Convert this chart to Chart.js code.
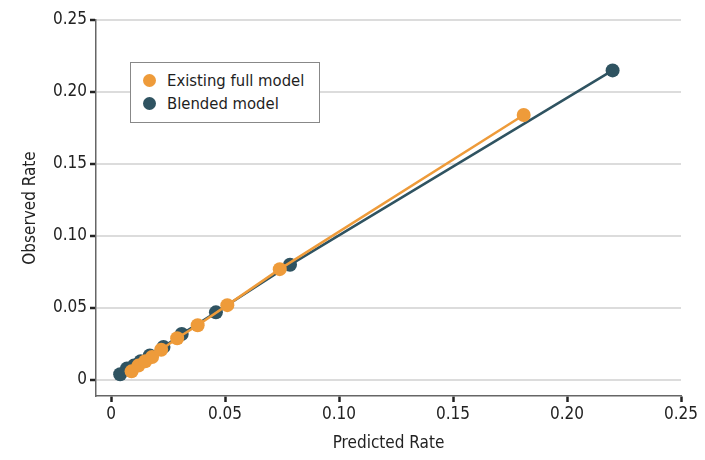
<!DOCTYPE html>
<html>
<head>
<meta charset="utf-8">
<script src="https://cdn.jsdelivr.net/npm/chart.js@4.4.0/dist/chart.umd.min.js"></script>
<style>
  body { margin: 0; background: #fff; }
  #wrap { position: relative; width: 705px; height: 460px; }
  #legend {
    position: absolute; left: 130px; top: 62px; width: 188px; height: 59px;
    border: 1px solid #888; background: #fff;
    font-family: "DejaVu Sans Condensed", sans-serif;
    font-size: 16.5px; color: #1e1e1e;
  }
  .item { position: absolute; left: 12px; display: flex; align-items: center; }
  .dot { width: 13px; height: 13px; border-radius: 50%; margin-right: 11px; }
</style>
</head>
<body>
<div id="wrap">
  <canvas id="calChart" width="705" height="460"></canvas>
  <div id="legend"></div>
</div>
<script>
// Calibration data
const seriesNames = ['Existing full model', 'Blended model'];
const seriesColors = ['#EE9B3A', '#2F5361'];

const existingPredicted = [0.009, 0.012, 0.015, 0.018, 0.022, 0.029, 0.038, 0.051, 0.074, 0.181];
const existingObserved  = [0.006, 0.010, 0.013, 0.016, 0.021, 0.029, 0.038, 0.052, 0.077, 0.184];

const blendedPredicted = [0.004, 0.007, 0.010, 0.013, 0.017, 0.023, 0.031, 0.046, 0.0785, 0.220];
const blendedObserved  = [0.004, 0.008, 0.010, 0.013, 0.017, 0.023, 0.032, 0.047, 0.080, 0.215];

const tickValues = [0, 0.05, 0.10, 0.15, 0.20, 0.25];

function toPoints(xs, ys) {
    return xs.map((x, i) => ({ x: x, y: ys[i] }));
}

function tickLabel(v) {
    return v === 0 ? '0' : v.toFixed(2);
}

const fontFamily = '"DejaVu Sans Condensed", sans-serif';
const textColor = '#222';

const ctx = document.getElementById('calChart').getContext('2d');
new Chart(ctx, {
    type: 'scatter',
    data: {
        datasets: [
            {
                label: seriesNames[0],
                data: toPoints(existingPredicted, existingObserved),
                showLine: true,
                borderColor: seriesColors[0],
                backgroundColor: seriesColors[0],
                borderWidth: 2.5,
                pointRadius: 7,
                pointBorderWidth: 0
            },
            {
                label: seriesNames[1],
                data: toPoints(blendedPredicted, blendedObserved),
                showLine: true,
                borderColor: seriesColors[1],
                backgroundColor: seriesColors[1],
                borderWidth: 2.5,
                pointRadius: 7,
                pointBorderWidth: 0
            }
        ]
    },
    options: {
        responsive: false,
        animation: false,
        layout: { padding: { left: 0, right: 24, top: 20, bottom: 0 } },
        plugins: { legend: { display: false }, tooltip: { enabled: false } },
        scales: {
            x: {
                type: 'linear',
                min: -0.0066,
                max: 0.25,
                afterBuildTicks: s => { s.ticks = tickValues.map(v => ({ value: v })); },
                afterFit: s => { s.height = 64; },
                grid: { drawOnChartArea: false, drawTicks: true, tickLength: 6, tickColor: '#222', tickWidth: 2.5 },
                border: { color: '#666', width: 1.5 },
                ticks: { callback: tickLabel, color: textColor, font: { family: fontFamily, size: 17 }, padding: 2, maxRotation: 0 },
                title: { display: true, text: 'Predicted Rate', color: textColor, font: { family: fontFamily, size: 17 }, padding: { top: 4, bottom: 6 } }
            },
            y: {
                type: 'linear',
                min: -0.0111,
                max: 0.25,
                afterBuildTicks: s => { s.ticks = tickValues.map(v => ({ value: v })); },
                afterFit: s => { s.width = 96; },
                grid: { color: '#dcdcdc', lineWidth: 2, drawTicks: true, tickLength: 6, tickColor: '#222', tickWidth: 2.5 },
                border: { color: '#666', width: 1.5 },
                ticks: { callback: tickLabel, color: textColor, font: { family: fontFamily, size: 17 }, padding: 3 },
                title: { display: true, text: 'Observed Rate', color: textColor, font: { family: fontFamily, size: 17 }, padding: { top: 20, bottom: 0 } }
            }
        }
    }
});

// HTML legend built from the series arrays
const legend = document.getElementById('legend');
seriesNames.forEach((name, i) => {
    const item = document.createElement('div');
    item.className = 'item';
    item.style.top = (8 + i * 23) + 'px';
    item.innerHTML = '<span class="dot" style="background:' + seriesColors[i] + '"></span><span>' + name + '</span>';
    legend.appendChild(item);
});
</script>
</body>
</html>
